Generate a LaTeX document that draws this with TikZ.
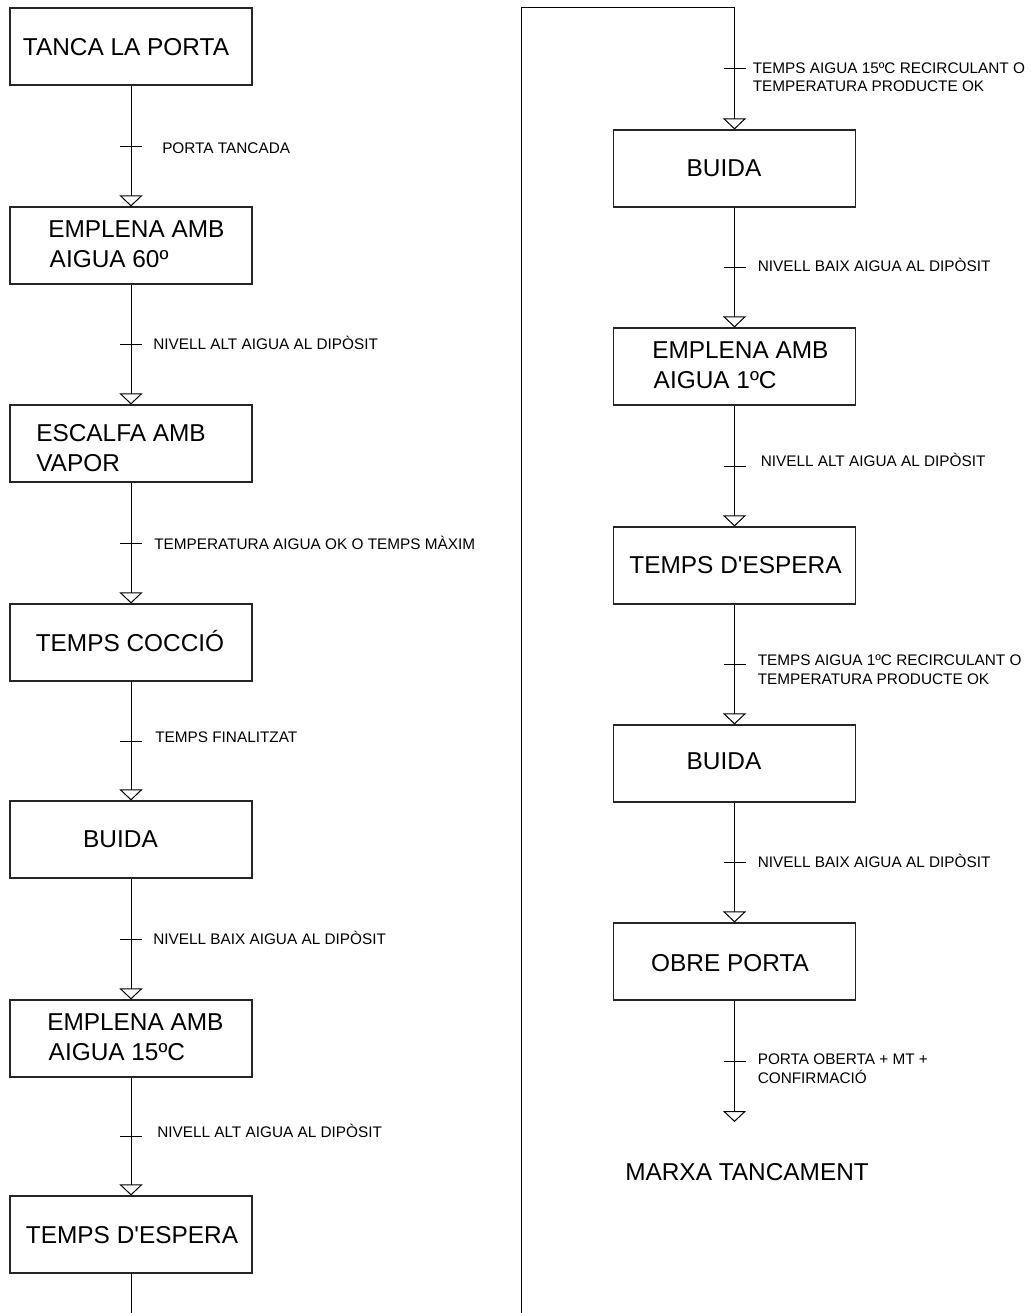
\documentclass[tikz,border=0pt]{standalone}
\usepackage{fontspec}
\setmainfont{Liberation Sans}[Ligatures=TeXOff]
\usetikzlibrary{arrows.meta,calc}
\newcommand\stepfont{\fontsize{18.3pt}{22.5pt}\selectfont}
\newcommand\condfont{\fontsize{11.5pt}{13.9pt}\selectfont}
\begin{document}
\begin{tikzpicture}[x=0.75pt,y=-0.75pt,
  stepbox/.style={draw=black!85,line width=0.8pt,minimum width=181.5pt,minimum height=57.75pt,inner sep=0pt},
  steptext/.style={font=\stepfont,inner sep=0pt,text height=12.75pt,text depth=0pt},
  steplines/.style={font=\stepfont,inner sep=0pt,align=left,anchor=base west},
  cond/.style={font=\condfont,inner sep=0pt,align=left,anchor=base west},
  flow/.style={line width=0.75pt,-{Triangle[open,length=8.25pt,width=17.25pt]}},
  link/.style={line width=0.75pt},
  tickmark/.style={line width=0.75pt}]
\useasboundingbox (0,0) rectangle (1035,1313);
\fill[white] (0,0) rectangle (1035,1313);

% ---- left column: steps
\node[stepbox] (b1) at (131,46.5) {};
\node[stepbox] (b2) at (131,245.5) {};
\node[stepbox] (b3) at (131,443.5) {};
\node[stepbox] (b4) at (131,642.5) {};
\node[stepbox] (b5) at (131,839.5) {};
\node[stepbox] (b6) at (131,1038.5) {};
\node[stepbox] (b7) at (131,1234.5) {};

% (two-line texts are placed by the baseline of their last line)
\node[steptext] (t1) at (126,47) {TANCA LA PORTA};
\node[steplines] (t2) at (48,267) {EMPLENA AMB\\\hspace*{1.1pt}AIGUA 60º};
\node[steplines] (t3) at (36,471) {ESCALFA AMB\\VAPOR};
\node[steptext] (t4) at (130,643) {TEMPS COCCIÓ};
\node[steptext] (t5) at (120.5,839) {BUIDA};
\node[steplines] (t6) at (47,1060) {EMPLENA AMB\\\hspace*{1.1pt}AIGUA 15ºC};
\node[steptext] (t7) at (132,1235) {TEMPS D'ESPERA};

% ---- right column: steps
\node[stepbox] (r1) at (734.5,168.5) {};
\node[stepbox] (r2) at (734.5,366.5) {};
\node[stepbox] (r3) at (734.5,565.5) {};
\node[stepbox] (r4) at (734.5,763.5) {};
\node[stepbox] (r5) at (734.5,961.5) {};

\node[steptext] (s1) at (724,168) {BUIDA};
\node[steplines] (s2) at (652,388) {EMPLENA AMB\\\hspace*{1.1pt}AIGUA 1ºC};
\node[steptext] (s3) at (735.5,565) {TEMPS D'ESPERA};
\node[steptext] (s4) at (724,761) {BUIDA};
\node[steptext] (s5) at (730,963) {OBRE PORTA};

% ---- left column: transitions
\draw[flow] (b1) -- coordinate[midway] (k1) (b2);
\draw[flow] (b2) -- coordinate[midway] (k2) (b3);
\draw[flow] (b3) -- coordinate[midway] (k3) (b4);
\draw[flow] (b4) -- coordinate[midway] (k4) (b5);
\draw[flow] (b5) -- coordinate[midway] (k5) (b6);
\draw[flow] (b6) -- coordinate[midway] (k6) (b7);
\coordinate (lbot) at (131,1313);
\draw[link] (b7) -- (lbot);

% ---- jump to the second column
\coordinate (lb) at (521,1313);
\coordinate (lt) at (521,8);
\coordinate (rt) at (734.5,8);
\draw[flow] (lb) -- (lt) -- (rt) -- coordinate[midway] (k7) (r1);

% ---- right column: transitions
\draw[flow] (r1) -- coordinate[midway] (k8) (r2);
\draw[flow] (r2) -- coordinate[midway] (k9) (r3);
\draw[flow] (r3) -- coordinate[midway] (k10) (r4);
\draw[flow] (r4) -- coordinate[midway] (k11) (r5);
\coordinate (e1) at (734.5,1122);
\draw[flow] (r5) -- coordinate[midway] (k12) (e1);

% ---- transition bars
\foreach \k in {k1,k2,k3,k4,k5,k6,k7,k8,k9,k10,k11,k12}
  \draw[tickmark] ($(\k)+(-11,0)$) -- ($(\k)+(11,0)$);

% ---- transition conditions
\node[cond] (c1) at ($(k1)+(31,7)$) {PORTA TANCADA};
\node[cond] (c2) at ($(k2)+(22,5)$) {NIVELL ALT AIGUA AL DIPÒSIT};
\node[cond] (c3) at ($(k3)+(23,6)$) {TEMPERATURA AIGUA OK O TEMPS MÀXIM};
\node[cond] (c4) at ($(k4)+(24,1)$) {TEMPS FINALITZAT};
\node[cond] (c5) at ($(k5)+(22,5)$) {NIVELL BAIX AIGUA AL DIPÒSIT};
\node[cond] (c6) at ($(k6)+(26,1)$) {NIVELL ALT AIGUA AL DIPÒSIT};
\node[cond] (c7) at ($(k7)+(18,23)$) {TEMPS AIGUA 15ºC RECIRCULANT O\\TEMPERATURA PRODUCTE OK};
\node[cond] (c8) at ($(k8)+(23,4)$) {NIVELL BAIX AIGUA AL DIPÒSIT};
\node[cond] (c9) at ($(k9)+(26,0)$) {NIVELL ALT AIGUA AL DIPÒSIT};
\node[cond] (c10) at ($(k10)+(23,20)$) {TEMPS AIGUA 1ºC RECIRCULANT O\\TEMPERATURA PRODUCTE OK};
\node[cond] (c11) at ($(k11)+(23,5)$) {NIVELL BAIX AIGUA AL DIPÒSIT};
\node[cond] (c12) at ($(k12)+(23,22)$) {PORTA OBERTA + MT +\\CONFIRMACIÓ};

% ---- closing sequence title
\node[font=\stepfont,inner sep=0pt,anchor=base west] (fin) at (625,1180) {MARXA TANCAMENT};
\end{tikzpicture}
\end{document}
